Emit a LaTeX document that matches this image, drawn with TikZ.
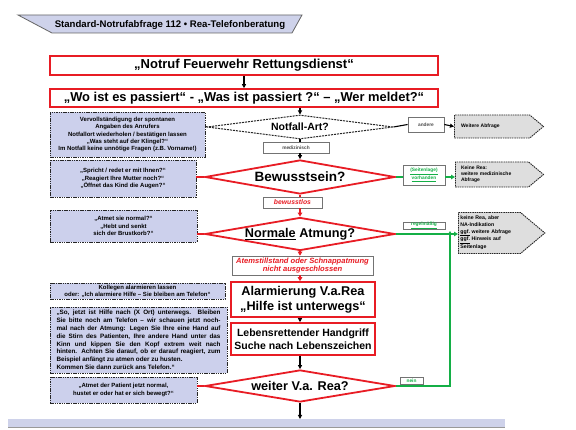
\documentclass[tikz,border=0pt]{standalone}
\usepackage{fontspec}
\setmainfont{Liberation Sans}
\usetikzlibrary{shapes.geometric,shapes.symbols,arrows.meta}
\definecolor{myred}{RGB}{232,28,36}
\definecolor{myblue}{RGB}{204,208,236}
\definecolor{mygreen}{RGB}{20,175,70}
\definecolor{mygray}{RGB}{222,222,222}
\definecolor{banner}{RGB}{206,210,234}
\begin{document}
\begin{tikzpicture}[x=1pt,y=-1pt,
 redbox/.style={draw=myred,line width=1.6pt,fill=white,inner sep=0pt,align=center,font=\bfseries},
 bluebox/.style={draw=black!85,dash pattern=on 1.5pt off 0.8pt,line width=0.9pt,fill=myblue,inner sep=0pt,align=center,font=\bfseries\fontsize{6}{7.3}\selectfont},
 tagbox/.style={draw=black!55,line width=0.7pt,fill=white,inner sep=0pt,font=\bfseries\fontsize{4.8}{5.4}\selectfont,text=black!70},
 greentag/.style={draw=black!55,line width=0.7pt,fill=white,inner sep=0pt,font=\bfseries\fontsize{4.8}{5.8}\selectfont,text=mygreen,align=center},
 reddiam/.style={diamond,draw=myred,line width=1.8pt,fill=white,inner sep=0pt,aspect=6,font=\bfseries\fontsize{12.7}{14}\selectfont},
 pent/.style={signal,signal to=east,signal pointer angle=80,draw=black!85,dash pattern=on 1.5pt off 0.8pt,line width=0.9pt,fill=mygray,inner sep=2pt,align=left,font=\bfseries\fontsize{5}{6.2}\selectfont,anchor=west},
 arr/.style={-{Triangle[length=4pt,width=4pt]},line width=1.1pt,black},
 redline/.style={myred,line width=1.8pt},
 redarr/.style={redline,-{Triangle[length=4pt,width=4.5pt]}},
 greenline/.style={mygreen,line width=1.5pt},
 greenarr/.style={greenline,-{Triangle[length=4pt,width=4.5pt]}},
 blackline/.style={black,line width=1.1pt}
]
\useasboundingbox (0,0) rectangle (576,430);
\fill[white] (0,0) rectangle (576,430);

% title banner
\filldraw[fill=banner,draw=black!60,line width=0.8pt] (18,15) -- (302,15) -- (292,33) -- (52,33) -- cycle;
\node[font=\bfseries\fontsize{9.6}{11}\selectfont] (title) at (170,25) {Standard-Notrufabfrage 112 • Rea-Telefonberatung};

% main red boxes
\node[redbox,minimum width=388pt,minimum height=19pt,font=\bfseries\fontsize{13}{15}\selectfont] (n1) at (244,65.5) {„Notruf Feuerwehr Rettungsdienst“};
\node[redbox,minimum width=388pt,minimum height=18pt,font=\bfseries\fontsize{12.9}{15}\selectfont] (n2) at (244,98) {„Wo ist es passiert“ - „Was ist passiert ?“ – „Wer meldet?“};

% Notfall-Art
\node[diamond,draw=black!85,dash pattern=on 2pt off 1pt,line width=1pt,fill=white,inner sep=0pt,aspect=6,minimum width=186pt,minimum height=24pt,font=\bfseries\fontsize{10.5}{12}\selectfont] (nf) at (300,127) {Notfall-Art?};
\node[tagbox,minimum width=36pt,minimum height=15pt] (andere) at (426,124.5) {andere};
\node[pent,minimum width=89pt,minimum height=23pt,text width=62pt] (p1) at (454,126.5) {Weitere Abfrage};
\node[tagbox,minimum width=66pt,minimum height=11pt] (med) at (296,147.5) {medizinisch};

% Bewusstsein
\node[reddiam,minimum width=190pt,minimum height=34pt,font=\bfseries\fontsize{13.5}{15}\selectfont] (bew) at (300,177) {Bewusstsein?};
\node[greentag,minimum width=42pt,minimum height=20pt] (seit) at (424,175) {\underline{(Seitenlage)}\\\underline{vorhanden}};
\node[pent,minimum width=88pt,minimum height=25pt,text width=62pt] (p2) at (455,174.5) {Keine Rea:\\weitere medizinische\\Abfrage};
\node[tagbox,minimum width=59pt,minimum height=11pt,text=myred,font=\bfseries\itshape\fontsize{6.8}{7.5}\selectfont] (bewl) at (292.5,202.5) {bewusstlos};

% Normale Atmung
\node[reddiam,minimum width=190pt,minimum height=33pt] (norm) at (300,234) {\underline{Normale} Atmung?};
\node[greentag,minimum width=42pt,minimum height=7pt] (regel) at (424,225.5) {\underline{regelmäßig}};
\node[pent,minimum width=85pt,minimum height=41pt,text width=58pt,font=\bfseries\fontsize{5.2}{6.6}\selectfont] (p3) at (458,233) {keine Rea, aber\\NA-Indikation\\\underline{ggf.} weitere Abfrage\\\underline{ggf.} Hinweis auf\\Seitenlage};
\coordinate (j) at (450,234);

% Atemstillstand
\node[tagbox,minimum width=141pt,minimum height=19pt,align=center,text=myred,font=\bfseries\itshape\fontsize{7.6}{8.6}\selectfont] (atem) at (302.5,265.5) {Atemstillstand oder Schnappatmung\\nicht ausgeschlossen};
\node[redbox,minimum width=144pt,minimum height=35pt,font=\bfseries\fontsize{12.7}{15}\selectfont] (alarm) at (303,299.5) {Alarmierung V.a.Rea\\„Hilfe ist unterwegs“};
\node[redbox,minimum width=144pt,minimum height=32pt,font=\bfseries\fontsize{10.5}{12.5}\selectfont] (leb) at (303,339) {Lebensrettender Handgriff\\Suche nach Lebenszeichen};

% weiter V.a. Rea
\node[reddiam,minimum width=190pt,minimum height=32pt] (weiter) at (300,386) {weiter V.a. Rea?};
\node[greentag,minimum width=23pt,minimum height=7pt] (nein) at (411.5,380.5) {nein};
\coordinate (wr) at (450,386);

% left blue boxes
\node[bluebox,minimum width=155pt,minimum height=45pt] (b1) at (127.5,134.5) {Vervollständigung der spontanen\\Angaben des Anrufers\\Notfallort wiederholen / bestätigen lassen\\„Was steht auf der Klingel?“\\Im Notfall keine unnötige Fragen (z.B. Vorname!)};
\node[bluebox,minimum width=146pt,minimum height=37pt,font=\bfseries\fontsize{6}{7.8}\selectfont] (b2) at (123,178.5) {„Spricht / redet er mit Ihnen?“\\„Reagiert Ihre Mutter noch?“\\„Öffnet das Kind die Augen?“};
\node[bluebox,minimum width=147pt,minimum height=32pt,font=\bfseries\fontsize{6}{7.8}\selectfont] (b3) at (123.5,226) {„Atmet sie normal?“\\„Hebt und senkt\\sich der Brustkorb?“};
\node[bluebox,minimum width=175pt,minimum height=16pt] (b4) at (137.5,291) {Kollegen alarmieren lassen\\oder: „Ich alarmiere Hilfe – Sie bleiben am Telefon“};
\node[bluebox,minimum width=177pt,minimum height=66pt,align=left,font=\bfseries\fontsize{6.3}{7.8}\selectfont] (b5) at (138.5,340) {\makebox[164pt][s]{„So, jetzt ist Hilfe nach (X Ort) unterwegs. Bleiben}\\\makebox[164pt][s]{Sie bitte noch am Telefon – wir schauen jetzt noch-}\\\makebox[164pt][s]{mal nach der Atmung: Legen Sie Ihre eine Hand auf}\\\makebox[164pt][s]{die Stirn des Patienten, Ihre andere Hand unter das}\\\makebox[164pt][s]{Kinn und kippen Sie den Kopf extrem weit nach}\\\makebox[164pt][s]{hinten. Achten Sie darauf, ob er darauf reagiert, zum}\\Beispiel anfängt zu atmen oder zu husten.\\ Kommen Sie dann zurück ans Telefon.“};
\node[bluebox,minimum width=147pt,minimum height=26pt,font=\bfseries\fontsize{6}{7.8}\selectfont] (b6) at (123.5,390) {„Atmet der Patient jetzt normal,\\hustet er oder hat er sich bewegt?“};

% bottom band
\filldraw[fill=banner,draw=none] (8,419) rectangle (505,427);
\draw[black!40,line width=0.6pt] (8,427.3) -- (505,427.3);
\coordinate (band) at (300,419);

% connectors
\draw[arr] (n1.south) -- (n2.north);
\draw[arr] (n2.south -| nf.north) -- (nf.north);
\draw[blackline] (nf.east) -- (andere.west);
\draw[arr] (andere.east) -- (p1.west);
\draw[black!85,dash pattern=on 2pt off 1pt,line width=1pt] (b1.east |- nf.west) -- (nf.west);
\draw[blackline] (nf.south) -- (nf.south |- med.north);
\draw[arr] (nf.south |- med.south) -- (bew.north);
\draw[greenline] (bew.east) -- (seit.west |- bew.east);
\draw[greenarr] (seit.east |- bew.east) -- (p2.west |- bew.east);
\draw[redline] (bew.west) -- (bew.west -| b2.east);
\draw[redline] (bew.south) -- (bew.south |- bewl.north);
\draw[redarr] (bew.south |- bewl.south) -- (norm.north);
\draw[redline] (norm.west) -- (norm.west -| b3.east);
\draw[greenline] (norm.east) -- (j);
\draw[greenarr] (j) -- (p3.west |- j);
\draw[redarr] (norm.south) -- (norm.south |- atem.north);
\draw[redarr] (norm.south |- atem.south) -- (norm.south |- alarm.north);
\draw[arr] (norm.south |- alarm.south) -- (norm.south |- leb.north);
\draw[arr] (norm.south |- leb.south) -- (weiter.north);
\draw[redline] (weiter.west) -- (weiter.west -| b6.east);
\draw[greenarr] (weiter.east) -- (wr) -- ([yshift=3pt]j);
\draw[arr] (weiter.south) -- (band);
\end{tikzpicture}
\end{document}
